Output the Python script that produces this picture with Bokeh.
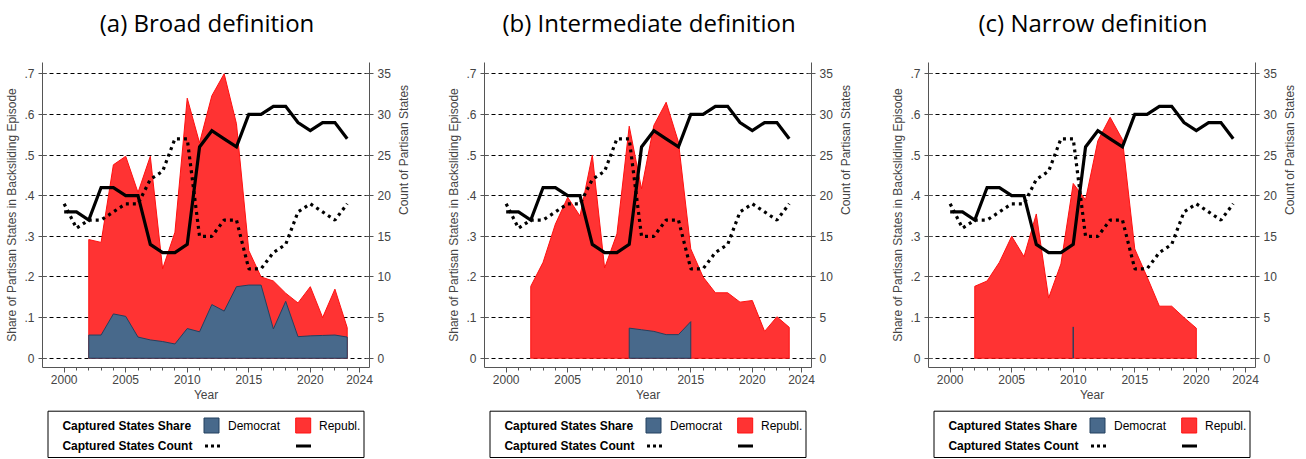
import math
from bokeh.plotting import figure
from bokeh.models import Range1d, LinearAxis, FixedTicker
from bokeh.layouts import row, column
from bokeh.embed import file_html
from bokeh.resources import INLINE
from bokeh.core.properties import value

# ---------------- data ----------------
years = list(range(2000, 2024))
rep_count = [18, 18, 17, 21, 21, 20, 20, 14, 13, 13, 14, 26, 28, 27, 26, 30, 30, 31, 31, 29, 28, 29, 29, 27]
dem_count = [19, 16, 17, 17, 18, 19, 19, 22, 23, 27, 27, 15, 15, 17, 17, 11, 11, 13, 14, 18, 19, 18, 17, 19]

N = None
broad_rep = [N, N, 0.292, 0.285, 0.476, 0.497, 0.408, 0.497, 0.220, 0.310, 0.640, 0.530,
             0.646, 0.700, 0.577, 0.265, 0.200, 0.190, 0.160, 0.136, 0.176, 0.100, 0.170, 0.075]
broad_dem = [N, N, 0.057, 0.057, 0.109, 0.103, 0.052, 0.045, 0.041, 0.035, 0.073, 0.065,
             0.132, 0.116, 0.176, 0.180, 0.180, 0.072, 0.140, 0.053, 0.055, 0.056, 0.057, 0.052]
inter_rep = [N, N, 0.177, 0.236, 0.330, 0.396, 0.350, 0.500, 0.222, 0.306, 0.571, 0.417,
             0.573, 0.630, 0.532, 0.269, 0.200, 0.161, 0.161, 0.138, 0.142, 0.066, 0.102, 0.076]
inter_dem = [N, N, N, N, N, N, N, N, N, N, 0.074, 0.070,
             0.066, 0.058, 0.058, 0.090, N, N, N, N, N, N, N, N]
narrow_rep = [N, N, 0.177, 0.190, 0.236, 0.300, 0.250, 0.355, 0.148, 0.232, 0.430, 0.390,
              0.535, 0.593, 0.538, 0.269, 0.200, 0.128, 0.128, 0.100, 0.074, N, N, N]
narrow_dem = [N, N, N, N, N, N, N, N, N, N, 0.077, N,
              N, N, N, N, N, N, N, N, N, N, N, N]

titles = ["(a) Broad definition", "(b) Intermediate definition", "(c) Narrow definition"]
share_ticks = [0, 0.1, 0.2, 0.3, 0.4, 0.5, 0.6, 0.7]
share_labels = ["0", ".1", ".2", ".3", ".4", ".5", ".6", ".7"]
count_ticks = [0, 5, 10, 15, 20, 25, 30, 35]
year_ticks = [2000, 2005, 2010, 2015, 2020, 2024]

# ---------------- style ----------------
RED = "#FF3333"
RED_EDGE = "#FF1010"
BLUE = "#48698B"
BLUE_EDGE = "#23405F"
AXIS = "#555555"
FONT = "Liberation Sans"
TITLE_FONT = "Open Sans"

FRAME_W = 327
FRAME_H = 305
BL = 42
TITLE_H = 40
BT = 22
BB = 41
LEG_H = 50


def runs(vals):
    out, cur = [], []
    for y, v in zip(years, vals):
        if v is None:
            if cur:
                out.append(cur)
                cur = []
        else:
            cur.append((y, v))
    if cur:
        out.append(cur)
    return out


def blank_fig(h, br):
    f = figure(frame_width=FRAME_W, frame_height=h,
               x_range=Range1d(0, FRAME_W), y_range=Range1d(h, 0),
               output_backend="svg", toolbar_location=None,
               x_axis_type=None, y_axis_type=None,
               min_border_left=BL, min_border_right=br, min_border_top=0, min_border_bottom=0)
    f.outline_line_color = None
    f.xgrid.grid_line_color = None
    f.ygrid.grid_line_color = None
    return f


def make_title(text, br):
    t = blank_fig(TITLE_H, br)
    t.text(x=[FRAME_W / 2 + 1], y=[21.5], text=[text], text_font=value(TITLE_FONT),
           text_font_size="24px", text_align="center", text_baseline="middle",
           text_color="black")
    return t


def make_panel(rep, dem, br):
    p = figure(frame_width=FRAME_W, frame_height=FRAME_H,
               x_range=Range1d(1998.24, 2024.81), y_range=Range1d(-0.0229, 0.7278),
               output_backend="svg", toolbar_location=None, title=None,
               min_border_left=BL, min_border_right=br, min_border_top=BT, min_border_bottom=BB,
               background_fill_color="white", border_fill_color="white")
    p.outline_line_color = None
    p.extra_y_ranges = {"cnt": Range1d(-0.0229 * 50, 0.7278 * 50)}

    # grid
    p.xgrid.grid_line_color = None
    p.ygrid.ticker = FixedTicker(ticks=share_ticks)
    p.ygrid.grid_line_color = "black"
    p.ygrid.grid_line_dash = "4 3"
    p.ygrid.grid_line_width = 1

    # x axis
    xa = p.xaxis[0]
    xa.ticker = FixedTicker(ticks=year_ticks, minor_ticks=list(range(2000, 2025)))
    xa.axis_label = "Year"
    xa.axis_label_text_font = FONT
    xa.axis_label_text_font_size = "12px"
    xa.axis_label_text_font_style = "normal"
    xa.axis_label_standoff = 1
    xa.major_label_text_font = FONT
    xa.major_label_text_font_size = "12px"
    xa.major_label_standoff = 2
    xa.major_tick_in = 0
    xa.major_tick_out = 5
    xa.minor_tick_in = 0
    xa.minor_tick_out = 3
    xa.axis_line_color = AXIS
    xa.major_tick_line_color = AXIS
    xa.minor_tick_line_color = AXIS

    # left axis
    ya = p.yaxis[0]
    ya.ticker = FixedTicker(ticks=share_ticks)
    ya.major_label_overrides = {t: l for t, l in zip(share_ticks, share_labels)}
    ya.axis_label = "Share of Partisan States in Backsliding Episode"
    ya.axis_label_text_font = FONT
    ya.axis_label_text_font_size = "12px"
    ya.axis_label_text_font_style = "normal"
    ya.axis_label_standoff = 2
    ya.major_label_text_font = FONT
    ya.major_label_text_font_size = "12px"
    ya.major_label_standoff = 4
    ya.major_tick_in = 4
    ya.major_tick_out = 4
    ya.minor_tick_line_color = None
    ya.axis_line_color = AXIS
    ya.major_tick_line_color = AXIS

    # right axis
    ra = LinearAxis(y_range_name="cnt", ticker=FixedTicker(ticks=count_ticks))
    ra.axis_label = "Count of Partisan States"
    ra.axis_label_orientation = math.pi / 2
    ra.axis_label_text_font = FONT
    ra.axis_label_text_font_size = "12px"
    ra.axis_label_text_font_style = "normal"
    ra.axis_label_standoff = 10
    ra.major_label_text_font = FONT
    ra.major_label_text_font_size = "12px"
    ra.major_label_standoff = 4
    ra.major_tick_in = 4
    ra.major_tick_out = 4
    ra.minor_tick_line_color = None
    ra.axis_line_color = AXIS
    ra.major_tick_line_color = AXIS
    p.add_layout(ra, "right")

    # areas
    for r in runs(rep):
        xs = [a for a, b in r]
        ys = [b for a, b in r]
        p.patch(xs + xs[::-1], ys + [0] * len(ys), fill_color=RED, line_color=RED_EDGE, line_width=1)
    for r in runs(dem):
        xs = [a for a, b in r]
        ys = [b for a, b in r]
        p.patch(xs + xs[::-1], ys + [0] * len(ys), fill_color=BLUE, line_color=BLUE_EDGE, line_width=1)

    # count lines
    p.line(years, dem_count, y_range_name="cnt", line_color="black", line_width=3.2,
           line_dash="3 4")
    p.line(years, rep_count, y_range_name="cnt", line_color="black", line_width=3.2,
           line_join="miter")
    return p


def make_legend(br):
    L = blank_fig(LEG_H, br)
    bx0 = FRAME_W / 2 - 158
    bx1 = FRAME_W / 2 + 158
    r1, r2 = 17, 37.5
    L.quad(left=[bx0], right=[bx1], top=[2.7], bottom=[49], fill_color=None,
           line_color="black", line_width=1)
    L.text(x=[bx0 + 14.4, bx0 + 14.4], y=[r1, r2],
           text=["Captured States Share", "Captured States Count"],
           text_font=value(FONT), text_font_size="12px", text_font_style="bold",
           text_baseline="middle", text_align="left", text_color="black")
    L.text(x=[bx0 + 180, bx0 + 271], y=[r1, r1], text=["Democrat", "Republ."],
           text_font=value(FONT), text_font_size="12px", text_font_style="normal",
           text_baseline="middle", text_align="left", text_color="black")
    L.quad(left=[bx0 + 156], right=[bx0 + 171], top=[r1 - 7.5], bottom=[r1 + 7.5],
           fill_color=BLUE, line_color=BLUE_EDGE, line_width=1)
    L.quad(left=[bx0 + 247.7], right=[bx0 + 262.7], top=[r1 - 7.5], bottom=[r1 + 7.5],
           fill_color=RED, line_color=RED_EDGE, line_width=1)
    L.segment(x0=[bx0 + 157], y0=[r2], x1=[bx0 + 172], y1=[r2], line_color="black",
              line_width=3.2, line_dash="3 3")
    L.segment(x0=[bx0 + 248], y0=[r2], x1=[bx0 + 263], y1=[r2], line_color="black",
              line_width=3.2)
    return L


right_borders = [73, 75, 47]
data = [(broad_rep, broad_dem), (inter_rep, inter_dem), (narrow_rep, narrow_dem)]
cols = []
for t, (rp, dm), br in zip(titles, data, right_borders):
    T = make_title(t, br)
    p = make_panel(rp, dm, br)
    L = make_legend(br)
    cols.append(column(T, p, L, spacing=0))

layout = row(*cols, spacing=0)
open("out.html", "w").write(file_html(layout, INLINE))
